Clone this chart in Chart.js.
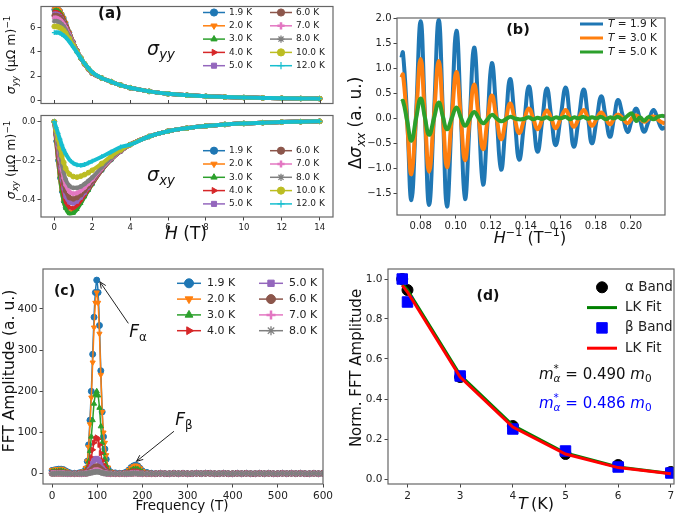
<!DOCTYPE html>
<html>
<head>
<meta charset="utf-8">
<title>Quantum oscillations</title>
<script src="https://cdn.jsdelivr.net/npm/chart.js@4.4.1/dist/chart.umd.min.js"></script>
<style>
  body { margin: 0; background: #fff; }
  #fig { position: relative; width: 685px; height: 514px; overflow: hidden; }
  #fig canvas { position: absolute; }
</style>
</head>
<body>
<div id="fig">
  <canvas id="chartA1" width="345" height="110" style="left:0;top:0"></canvas>
  <canvas id="chartA2" width="345" height="151" style="left:0;top:109px"></canvas>
  <canvas id="chartB" width="340" height="260" style="left:345px;top:0"></canvas>
  <canvas id="chartC" width="345" height="254" style="left:0;top:260px"></canvas>
  <canvas id="chartD" width="340" height="254" style="left:345px;top:260px"></canvas>
</div>
<script>
const FONT = 'DejaVu Sans';
Chart.defaults.font.family = FONT;
const TAB = ['#1f77b4', '#ff7f0e', '#2ca02c', '#d62728', '#9467bd', '#8c564b', '#e377c2', '#7f7f7f', '#bcbd22', '#17becf'];

// ---- (a) sigma_yy / sigma_xy vs H ----
const aLabels = ['1.9 K', '2.0 K', '3.0 K', '4.0 K', '5.0 K', '6.0 K', '7.0 K', '8.0 K', '10.0 K', '12.0 K'];
const aField = [0, 0.1, 0.2, 0.3, 0.4, 0.5, 0.6, 0.8, 1.0, 1.2, 1.4, 1.6, 1.8, 2.0, 2.5, 3, 3.5, 4, 5, 6, 7, 8, 9, 10, 11, 12, 13, 14];
const aHTicks = [0, 2, 4, 6, 8, 10, 12, 14];
const aYYTicks = [0, 2, 4, 6];
const aXYTicks = [-0.4, -0.2, 0.0];

// H >= 2.5 T, curves collapse
const syyTail = [1.85, 1.55, 1.27, 1.05, 0.75, 0.55, 0.43, 0.34, 0.28, 0.24, 0.21, 0.18, 0.16, 0.15];
const syy = [
  [7.5, 7.6, 7.55, 7.4, 7.1, 6.8, 6.4, 5.6, 4.8, 4.1, 3.5, 3.0, 2.6, 2.25].concat(syyTail),
  [7.55, 7.65, 7.6, 7.42, 7.12, 6.8, 6.42, 5.6, 4.8, 4.1, 3.5, 3.0, 2.6, 2.25].concat(syyTail),
  [7.4, 7.45, 7.4, 7.25, 7.0, 6.7, 6.35, 5.55, 4.8, 4.1, 3.5, 3.0, 2.6, 2.25].concat(syyTail),
  [7.3, 7.3, 7.25, 7.1, 6.9, 6.6, 6.28, 5.52, 4.78, 4.1, 3.5, 3.0, 2.6, 2.25].concat(syyTail),
  [7.15, 7.15, 7.1, 6.95, 6.75, 6.5, 6.2, 5.48, 4.76, 4.1, 3.5, 3.0, 2.6, 2.26].concat(syyTail),
  [7.0, 7.0, 6.95, 6.85, 6.65, 6.4, 6.1, 5.45, 4.74, 4.1, 3.5, 3.0, 2.6, 2.26].concat(syyTail),
  [6.8, 6.8, 6.75, 6.65, 6.5, 6.3, 6.02, 5.4, 4.72, 4.08, 3.5, 3.0, 2.61, 2.27].concat(syyTail),
  [6.55, 6.55, 6.5, 6.42, 6.28, 6.1, 5.85, 5.3, 4.66, 4.06, 3.5, 3.01, 2.62, 2.28].concat(syyTail),
  [6.1, 6.1, 6.07, 6.0, 5.9, 5.75, 5.55, 5.1, 4.55, 4.02, 3.5, 3.03, 2.64, 2.3].concat(syyTail),
  [5.6, 5.6, 5.6, 5.55, 5.45, 5.35, 5.2, 4.85, 4.4, 3.95, 3.48, 3.05, 2.67, 2.33].concat(syyTail)
];

// H >= 4 T
const sxyTail = [-0.118, -0.076, -0.049, -0.033, -0.022, -0.014, -0.009, -0.005, -0.002, 0.0, 0.002];
const sxy = [
  [0, -0.10, -0.20, -0.29, -0.36, -0.41, -0.44, -0.465, -0.462, -0.44, -0.41, -0.38, -0.35, -0.32, -0.25, -0.195, -0.152].concat(sxyTail),
  [0, -0.10, -0.20, -0.29, -0.36, -0.41, -0.44, -0.466, -0.464, -0.442, -0.412, -0.382, -0.351, -0.321, -0.25, -0.195, -0.152].concat(sxyTail),
  [0, -0.09, -0.19, -0.28, -0.355, -0.41, -0.445, -0.472, -0.47, -0.45, -0.42, -0.386, -0.352, -0.32, -0.25, -0.195, -0.152].concat(sxyTail),
  [0, -0.08, -0.17, -0.25, -0.32, -0.37, -0.41, -0.44, -0.445, -0.43, -0.405, -0.376, -0.346, -0.316, -0.248, -0.194, -0.152].concat(sxyTail),
  [0, -0.07, -0.15, -0.23, -0.295, -0.345, -0.385, -0.415, -0.42, -0.41, -0.39, -0.365, -0.338, -0.31, -0.245, -0.192, -0.151].concat(sxyTail),
  [0, -0.065, -0.14, -0.21, -0.27, -0.32, -0.355, -0.39, -0.397, -0.39, -0.375, -0.354, -0.33, -0.305, -0.243, -0.191, -0.151].concat(sxyTail),
  [0, -0.06, -0.125, -0.19, -0.245, -0.29, -0.325, -0.36, -0.37, -0.366, -0.355, -0.338, -0.318, -0.297, -0.24, -0.19, -0.15].concat(sxyTail),
  [0, -0.055, -0.115, -0.17, -0.22, -0.262, -0.297, -0.33, -0.34, -0.34, -0.333, -0.32, -0.304, -0.287, -0.235, -0.187, -0.149].concat(sxyTail),
  [0, -0.045, -0.09, -0.135, -0.175, -0.21, -0.24, -0.27, -0.282, -0.285, -0.28, -0.272, -0.262, -0.25, -0.215, -0.177, -0.145].concat(sxyTail),
  [0, -0.03, -0.06, -0.09, -0.12, -0.145, -0.165, -0.195, -0.213, -0.222, -0.224, -0.22, -0.212, -0.203, -0.18, -0.155, -0.13].concat(sxyTail)
];

// ---- (b) oscillatory part vs 1/H ----
const bLabels = ['1.9 K', '3.0 K', '5.0 K'];
const bInvH = [0.0690, 0.0699, 0.0723, 0.0747, 0.0774, 0.0800, 0.0824, 0.0848, 0.0876, 0.0903, 0.0927, 0.0950, 0.0977, 0.1004, 0.1029,
  0.1053, 0.1079, 0.1105, 0.1131, 0.1156, 0.1181, 0.1206, 0.1233, 0.1259, 0.1285, 0.1310, 0.1336, 0.1362, 0.1390, 0.1417,
  0.1442, 0.1467, 0.1494, 0.1520, 0.1545, 0.1570, 0.1599, 0.1627, 0.1651, 0.1674, 0.1702, 0.1730, 0.1754, 0.1777, 0.1804,
  0.1830, 0.1855, 0.1880, 0.1903, 0.1926, 0.1953, 0.1980, 0.2005, 0.2029, 0.2052, 0.2074, 0.2101, 0.2128, 0.2152, 0.2175, 0.2194];
const bT19 = [1.22, 1.32, 0.0, -1.64, 0.1, 1.95, 0.1, -1.74, 0.1, 1.98, 0.1, -1.77, 0.0, 1.76, 0.07,
  -1.62, -0.1, 1.42, 0.05, -1.33, -0.1, 1.11, 0.05, -1.03, -0.1, 0.79, 0.0, -0.83, -0.1, 0.64,
  0.0, -0.67, -0.03, 0.60, 0.03, -0.54, 0.04, 0.62, 0.03, -0.57, 0.0, 0.58, 0.04, -0.50, -0.03,
  0.44, 0.04, -0.37, 0.0, 0.37, 0.05, -0.27, -0.03, 0.20, -0.03, -0.27, -0.05, 0.17, -0.01, -0.20, -0.18];
const bT30 = [0.82, 0.88, -0.1, -1.12, 0.05, 1.19, 0.05, -1.07, 0.05, 1.15, 0.05, -0.98, 0.0, 0.93, 0.02,
  -0.84, -0.05, 0.68, 0.02, -0.62, -0.05, 0.46, 0.0, -0.42, -0.05, 0.30, 0.0, -0.30, -0.03, 0.20,
  0.0, -0.22, -0.02, 0.16, 0.0, -0.20, 0.0, 0.17, 0.0, -0.17, 0.0, 0.17, 0.01, -0.15, -0.01,
  0.12, 0.0, -0.12, 0.0, 0.08, 0.0, -0.10, 0.0, 0.06, 0.0, -0.07, -0.01, 0.04, -0.02, -0.08, -0.10];
const bT50 = [0.33, 0.35, -0.05, -0.45, 0.0, 0.40, 0.02, -0.33, 0.0, 0.32, 0.03, -0.22, 0.0, 0.22, 0.02,
  -0.15, -0.01, 0.13, 0.01, -0.10, -0.02, 0.07, 0.0, -0.06, -0.02, 0.03, 0.0, -0.02, -0.01, 0.02,
  -0.02, 0.01, -0.01, 0.02, -0.02, 0.02, 0.0, 0.03, -0.02, 0.02, 0.0, 0.03, -0.01, 0.02, 0.0,
  0.03, -0.02, 0.02, 0.0, 0.03, -0.02, 0.05, 0.10, -0.05, 0.02, -0.05, 0.03, -0.02, 0.03, 0.05, 0.04];
const bXTicks = [0.08, 0.10, 0.12, 0.14, 0.16, 0.18, 0.20];
const bYTicks = [-1.5, -1.0, -0.5, 0.0, 0.5, 1.0, 1.5, 2.0];

// ---- (c) FFT spectra ----
const cLabels = ['1.9 K', '2.0 K', '3.0 K', '4.0 K', '5.0 K', '6.0 K', '7.0 K', '8.0 K'];
const cFreq = [0, 5, 10, 15, 20, 25, 30, 35, 40, 50, 60,
  65, 70, 75, 78, 81, 84, 87, 90, 93, 96, 99, 102, 105, 108, 111, 114, 117, 120, 124, 130,
  140, 150, 160, 165, 170, 175, 180, 185, 190, 195, 200, 210, 220,
  230, 240, 250, 260, 270, 280, 290, 300, 310, 320, 330, 340, 350, 360, 370, 380, 390, 400, 410,
  420, 430, 440, 450, 460, 470, 480, 490, 500, 510, 520, 530, 540, 550, 560, 570, 580, 590, 600];
const cTail = [0, 1, 0, 0, 1, 0, 1, 0, 0, 1, 0, 1, 1, 0, 0, 1, 0, 0, 1,
  0, 1, 0, 0, 1, 0, 1, 0, 0, 1, 0, 1, 0, 1, 0, 0, 1, 0, 1];
const cAmp = [
  [8, 9, 10, 11, 11, 10, 7, 4, 2, 1, 2, 3, 5, 12, 30, 70, 130, 200, 290, 380, 440, 470, 440, 360, 250, 150, 90, 60, 35, 12, 4,
    2, 1, 2, 4, 9, 15, 19, 21, 19, 13, 7, 3, 1].concat(cTail),
  [9, 10, 11, 11, 12, 10, 7, 4, 2, 1, 2, 3, 6, 14, 30, 65, 120, 185, 270, 355, 415, 440, 415, 340, 240, 150, 100, 75, 45, 15, 5,
    2, 1, 2, 4, 9, 14, 18, 20, 18, 13, 7, 3, 1].concat(cTail),
  [5, 6, 6, 7, 7, 6, 4, 2, 1, 1, 1, 2, 3, 7, 14, 30, 55, 90, 130, 170, 192, 200, 190, 160, 115, 75, 50, 35, 20, 8, 3,
    1, 1, 1, 2, 5, 8, 11, 12, 11, 8, 4, 2, 1].concat(cTail),
  [3, 3, 3, 4, 4, 3, 2, 1, 1, 0, 1, 1, 2, 4, 7, 14, 25, 40, 58, 75, 85, 88, 84, 70, 50, 32, 22, 15, 9, 4, 2,
    1, 0, 1, 1, 3, 4, 6, 6, 6, 4, 2, 1, 0].concat(cTail),
  [2, 2, 2, 2, 2, 2, 1, 1, 0, 0, 0, 1, 1, 2, 3, 6, 11, 17, 25, 32, 36, 37, 35, 29, 21, 14, 9, 6, 4, 2, 1,
    0, 0, 0, 1, 1, 2, 3, 3, 3, 2, 1, 0, 0].concat(cTail),
  [1, 1, 1, 1, 1, 1, 1, 0, 0, 0, 0, 0, 1, 1, 2, 3, 5, 8, 11, 14, 16, 17, 16, 13, 10, 7, 4, 3, 2, 1, 0,
    0, 0, 0, 0, 1, 1, 1, 2, 1, 1, 0, 0, 0].concat(cTail),
  [1, 1, 1, 1, 1, 1, 0, 0, 0, 0, 0, 0, 0, 1, 1, 2, 3, 4, 5, 7, 8, 8, 8, 6, 5, 3, 2, 1, 1, 0, 0,
    0, 0, 0, 0, 0, 1, 1, 1, 1, 0, 0, 0, 0].concat(cTail),
  [0, 0, 1, 1, 1, 0, 0, 0, 0, 0, 0, 0, 0, 0, 1, 1, 2, 3, 3, 4, 5, 5, 5, 4, 3, 2, 1, 1, 0, 0, 0,
    0, 0, 0, 0, 0, 0, 1, 1, 0, 0, 0, 0, 0].concat(cTail)
];
const cXTicks = [0, 100, 200, 300, 400, 500, 600];
const cYTicks = [0, 100, 200, 300, 400];

// ---- (d) normalised FFT amplitude vs T ----
const dTemp = [1.9, 2, 3, 4, 5, 6, 7];
const dAlpha = [1.0, 0.945, 0.51, 0.265, 0.125, 0.07, 0.035];
const dAlphaFit = [0.975, 0.945, 0.52, 0.268, 0.13, 0.06, 0.028];
const dBeta = [1.0, 0.885, 0.515, 0.25, 0.14, 0.06, 0.03];
const dBetaFit = [0.968, 0.935, 0.51, 0.26, 0.125, 0.057, 0.026];
const dXTicks = [2, 3, 4, 5, 6, 7];
const dYTicks = [0.0, 0.2, 0.4, 0.6, 0.8, 1.0];

// marker per temperature (matplotlib o v ^ > s p P * h +)
const MARK = [['circle', 0, 1], ['triangle', 180, 1], ['triangle', 0, 1], ['triangle', 90, 1], ['rect', 0, 1],
  ['circle', 0, 1], ['cross', 0, 2.5], ['star', 0, 1.3], ['circle', 0, 1], ['cross', 0, 1.2]];

function series(xs, ys, color, opt) {
  return Object.assign({
    data: xs.map((x, i) => ({ x: x, y: ys[i] })),
    borderColor: color, backgroundColor: color,
    pointBackgroundColor: color, pointBorderColor: color,
    borderWidth: 2, pointRadius: 0, pointBorderWidth: 1,
    cubicInterpolationMode: 'monotone', clip: 0
  }, opt);
}

function axis(min, max, ticks, opt) {
  const o = Object.assign({ size: 10.5, dec: 0, fit: 30, horizontal: false, labels: true }, opt);
  return {
    type: 'linear', min: min, max: max,
    afterBuildTicks: s => { s.ticks = ticks.map(v => ({ value: v })); },
    afterFit: s => {
      if (o.horizontal) s.height = o.fit; else s.width = o.fit;
      s.paddingLeft = s.paddingRight = s.paddingTop = s.paddingBottom = 0;
    },
    ticks: {
      display: o.labels, color: '#222', padding: 2, autoSkip: false, maxRotation: 0, minRotation: 0,
      font: { family: FONT, size: o.size },
      callback: v => (v < 0 ? '\u2212' : '') + Math.abs(v).toFixed(o.dec)
    },
    grid: { display: true, drawOnChartArea: false, drawTicks: o.labels, tickLength: 3.5, color: '#444' },
    border: { display: false }
  };
}

// text made of pieces: [text, flags] i=italic b=bold s=sub p=sup k=stack on previous
function rich(ctx, parts, x, y, size, align, color) {
  const fontOf = f => (f.includes('i') ? 'italic ' : '') + (f.includes('b') ? 'bold ' : '') +
    ((f.includes('s') || f.includes('p')) ? size * 0.7 : size) + 'px "' + FONT + '"';
  let w = 0, lastW = 0;
  parts.forEach(([t, f = '']) => {
    ctx.font = fontOf(f);
    const tw = ctx.measureText(t).width;
    if (f.includes('k')) { w += Math.max(0, tw - lastW); lastW = Math.max(tw, lastW); }
    else { w += tw; lastW = tw; }
  });
  let cx = align === 'center' ? x - w / 2 : (align === 'right' ? x - w : x);
  let prevX = cx, prevW = 0;
  ctx.save();
  ctx.fillStyle = color || '#000';
  ctx.textBaseline = 'middle';
  ctx.textAlign = 'left';
  parts.forEach(([t, f = '']) => {
    ctx.font = fontOf(f);
    const tw = ctx.measureText(t).width;
    const dy = f.includes('s') ? size * 0.3 : (f.includes('p') ? -size * 0.38 : 0);
    if (f.includes('k')) {
      ctx.fillText(t, prevX, y + dy);
      cx = prevX + Math.max(tw, prevW);
    } else {
      ctx.fillText(t, cx, y + dy);
      prevX = cx; prevW = tw;
      cx += tw;
    }
  });
  ctx.restore();
}

function richV(ctx, parts, x, y, size, color) {
  ctx.save();
  ctx.translate(x, y);
  ctx.rotate(-Math.PI / 2);
  rich(ctx, parts, 0, 0, size, 'center', color);
  ctx.restore();
}

function marker(ctx, style, rot, r, bw, x, y, color) {
  ctx.save();
  ctx.fillStyle = color; ctx.strokeStyle = color; ctx.lineWidth = bw;
  if (Chart.helpers && Chart.helpers.drawPoint) {
    Chart.helpers.drawPoint(ctx, { pointStyle: style, rotation: rot, radius: r, borderWidth: bw }, x, y);
  } else {
    ctx.beginPath(); ctx.arc(x, y, r, 0, Math.PI * 2); ctx.fill();
  }
  ctx.restore();
}

// legend in columns: L = {x, y, dx, dy, rows, len, gap, size}
function legend(ctx, items, L) {
  items.forEach((it, i) => {
    const x = L.x + Math.floor(i / L.rows) * L.dx, y = L.y + (i % L.rows) * L.dy;
    if (it.lw) {
      ctx.save();
      ctx.strokeStyle = it.color; ctx.lineWidth = it.lw;
      ctx.beginPath(); ctx.moveTo(x, y); ctx.lineTo(x + L.len, y); ctx.stroke();
      ctx.restore();
    }
    if (it.style) marker(ctx, it.style, it.rot || 0, it.r, it.bw || 1, x + L.len / 2, y, it.color);
    rich(ctx, it.text, x + L.len + L.gap, y, L.size, 'left', '#222');
  });
}

function arrow(ctx, x1, y1, x2, y2) {
  const a = Math.atan2(y2 - y1, x2 - x1), h = 7;
  ctx.save();
  ctx.strokeStyle = '#222'; ctx.lineWidth = 1;
  ctx.beginPath();
  ctx.moveTo(x1, y1); ctx.lineTo(x2, y2);
  ctx.moveTo(x2 - h * Math.cos(a - 0.4), y2 - h * Math.sin(a - 0.4));
  ctx.lineTo(x2, y2);
  ctx.lineTo(x2 - h * Math.cos(a + 0.4), y2 - h * Math.sin(a + 0.4));
  ctx.stroke();
  ctx.restore();
}

const framePlugin = {
  id: 'frame',
  afterDatasetsDraw(chart) {
    const a = chart.chartArea, ctx = chart.ctx;
    ctx.save();
    ctx.strokeStyle = '#666'; ctx.lineWidth = 1.2;
    ctx.strokeRect(a.left, a.top, a.right - a.left, a.bottom - a.top);
    ctx.restore();
  }
};

function makeChart(id, datasets, x, y, pad, deco) {
  const n = datasets.length;
  datasets.forEach((d, i) => { d.order = n - i; });
  return new Chart(document.getElementById(id), {
    type: 'line',
    data: { datasets: datasets },
    options: {
      responsive: false, animation: false, events: [],
      layout: { padding: Object.assign({ left: 0, right: 0, top: 0, bottom: 0 }, pad) },
      plugins: { legend: { display: false }, tooltip: { enabled: false } },
      scales: { x: x, y: y }
    },
    plugins: [framePlugin, { id: 'deco', afterDraw: c => deco(c, c.ctx) }]
  });
}

const aItems = aLabels.map((l, i) => ({ text: [[l, '']], color: TAB[i], lw: 1.5, style: MARK[i][0], rot: MARK[i][1], bw: MARK[i][2], r: 3.6 }));
const aLeg = { x: 203, dx: 67, dy: 13.3, rows: 5, len: 22, gap: 4, size: 9 };
const sigmaTitle = sub => [['σ', 'i'], [sub, 'is'], [' (μΩ m)', ''], ['\u22121', 'p']];

// (a) top
makeChart('chartA1',
  aLabels.map((l, i) => series(aField, syy[i], TAB[i], { label: l, borderWidth: 4, pointRadius: 2.4, pointStyle: MARK[i][0], pointRotation: MARK[i][1], pointBorderWidth: MARK[i][2] })),
  axis(-0.7, 14.7, aHTicks, { horizontal: true, fit: 2, labels: false }),
  axis(-0.25, 7.75, aYYTicks, { fit: 41, size: 8.5 }),
  { top: 1, right: 12 },
  (c, ctx) => {
    const xs = c.scales.x, b = c.chartArea.bottom;
    ctx.save(); ctx.strokeStyle = '#444'; ctx.lineWidth = 1;
    aHTicks.forEach(v => { const p = Math.round(xs.getPixelForValue(v)) + 0.5; ctx.beginPath(); ctx.moveTo(p, b); ctx.lineTo(p, b - 3.5); ctx.stroke(); });
    ctx.restore();
    richV(ctx, sigmaTitle('yy'), 12, 55, 12.5, '#111');
    rich(ctx, [['σ', 'i'], ['yy', 'is']], 161, 50, 19, 'center', '#111');
    rich(ctx, [['(a)', 'b']], 110, 14, 15, 'center', '#111');
    legend(ctx, aItems, Object.assign({ y: 12.5 }, aLeg));
  });

// (a) bottom
makeChart('chartA2',
  aLabels.map((l, i) => series(aField, sxy[i], TAB[i], { label: l, borderWidth: 4, pointRadius: 2.4, pointStyle: MARK[i][0], pointRotation: MARK[i][1], pointBorderWidth: MARK[i][2] })),
  axis(-0.7, 14.7, aHTicks, { horizontal: true, fit: 43, size: 8.5 }),
  axis(-0.49, 0.032, aXYTicks, { fit: 41, size: 8.5, dec: 1 }),
  { right: 12 },
  (c, ctx) => {
    richV(ctx, sigmaTitle('xy'), 12, 51, 12.5, '#111');
    rich(ctx, [['σ', 'i'], ['xy', 'is']], 161, 67, 19, 'center', '#111');
    rich(ctx, [['H', 'i'], [' (T)', '']], 186, 126, 17, 'center', '#111');
    legend(ctx, aItems, Object.assign({ y: 41.7 }, aLeg));
  });

// (b)
const bLine = { borderWidth: 4, cubicInterpolationMode: 'default', tension: 0.45 };
makeChart('chartB',
  [series(bInvH, bT19, TAB[0], Object.assign({ label: bLabels[0] }, bLine)),
   series(bInvH, bT30, TAB[1], Object.assign({ label: bLabels[1] }, bLine)),
   series(bInvH, bT50, TAB[2], Object.assign({ label: bLabels[2] }, bLine))],
  axis(0.0665, 0.2194, bXTicks, { horizontal: true, fit: 45, size: 10, dec: 2 }),
  axis(-1.94, 2.015, bYTicks, { fit: 52, size: 10, dec: 1 }),
  { top: 18, right: 20 },
  (c, ctx) => {
    richV(ctx, [['Δ', ''], ['σ', 'i'], ['xx', 'is'], [' (a. u.)', '']], 12, 123, 17, '#111');
    rich(ctx, [['H', 'i'], ['\u22121', 'p'], [' (T', ''], ['\u22121', 'p'], [')', '']], 185, 239, 16, 'center', '#111');
    rich(ctx, [['(b)', 'b']], 173, 30, 14.5, 'center', '#111');
    legend(ctx, bLabels.map((l, i) => ({ text: [['T', 'i'], [' = ' + l, '']], color: TAB[i], lw: 3 })),
      { x: 235, y: 24, dx: 0, dy: 14, rows: 3, len: 23, gap: 5, size: 10.5 });
  });

// (c)
makeChart('chartC',
  cLabels.map((l, i) => series(cFreq, cAmp[i], TAB[i], { label: l, borderWidth: 1.5, pointRadius: 3, pointStyle: MARK[i][0], pointRotation: MARK[i][1], pointBorderWidth: MARK[i][2] })),
  axis(-20, 600, cXTicks, { horizontal: true, fit: 30, size: 10.5 }),
  axis(-25, 497, cYTicks, { fit: 43, size: 10.5 }),
  { top: 9, right: 22 },
  (c, ctx) => {
    const xs = c.scales.x, ys = c.scales.y;
    richV(ctx, [['FFT Amplitude (a. u.)', '']], 10, 111, 15.5, '#111');
    rich(ctx, [['Frequency (T)', '']], 182, 246, 13.5, 'center', '#111');
    rich(ctx, [['(c)', 'b']], 64.5, 31, 14, 'center', '#111');
    arrow(ctx, xs.getPixelForValue(169), ys.getPixelForValue(365), xs.getPixelForValue(106), ys.getPixelForValue(466));
    rich(ctx, [['F', 'i'], ['α', 's']], 138, 73, 17, 'center', '#111');
    arrow(ctx, xs.getPixelForValue(270), ys.getPixelForValue(103), xs.getPixelForValue(187), ys.getPixelForValue(30));
    rich(ctx, [['F', 'i'], ['β', 's']], 184, 161, 17, 'center', '#111');
    legend(ctx, cLabels.map((l, i) => ({ text: [[l, '']], color: TAB[i], lw: 1.5, style: MARK[i][0], rot: MARK[i][1], bw: MARK[i][2], r: 4.5 })),
      { x: 177, y: 23.3, dx: 82, dy: 15.8, rows: 4, len: 24, gap: 6, size: 11 });
  });

// (d)
makeChart('chartD',
  [series(dTemp, dAlpha, '#000', { label: 'α Band', showLine: false, pointRadius: 5.5, pointStyle: 'circle' }),
   series(dTemp, dAlphaFit, 'green', { label: 'LK Fit', borderWidth: 3, cubicInterpolationMode: 'default', tension: 0 }),
   series(dTemp, dBeta, '#0000ff', { label: 'β Band', showLine: false, pointRadius: 7.4, pointStyle: 'rect' }),
   series(dTemp, dBetaFit, '#ff0000', { label: 'LK Fit', borderWidth: 3, cubicInterpolationMode: 'default', tension: 0 })],
  axis(1.63, 7.06, dXTicks, { horizontal: true, fit: 30, size: 10.5 }),
  axis(-0.025, 1.05, dYTicks, { fit: 43, size: 10.5, dec: 1 }),
  { top: 9, right: 11 },
  (c, ctx) => {
    richV(ctx, [['Norm. FFT Amplitude', '']], 12.5, 108, 15, '#111');
    rich(ctx, [['T', 'i'], ['\u2009(K)', '']], 191, 245, 16, 'center', '#111');
    rich(ctx, [['(d)', 'b']], 143, 36, 14, 'center', '#111');
    const mass = v => [['m', 'i'], ['*', 'p'], ['α', 'isk'], [' = ' + v + ' ', ''], ['m', 'i'], ['0', 's']];
    rich(ctx, mass('0.490'), 194, 115, 15, 'left', '#111');
    rich(ctx, mass('0.486'), 194, 144, 15, 'left', '#0000ff');
    legend(ctx, [
      { text: [['α Band', '']], color: '#000', style: 'circle', r: 5.5 },
      { text: [['LK Fit', '']], color: 'green', lw: 3 },
      { text: [['β Band', '']], color: '#0000ff', style: 'rect', r: 7.4 },
      { text: [['LK Fit', '']], color: '#ff0000', lw: 3 }
    ], { x: 242, y: 27.3, dx: 0, dy: 20.3, rows: 4, len: 30, gap: 8, size: 13.5 });
  });
</script>
</body>
</html>
